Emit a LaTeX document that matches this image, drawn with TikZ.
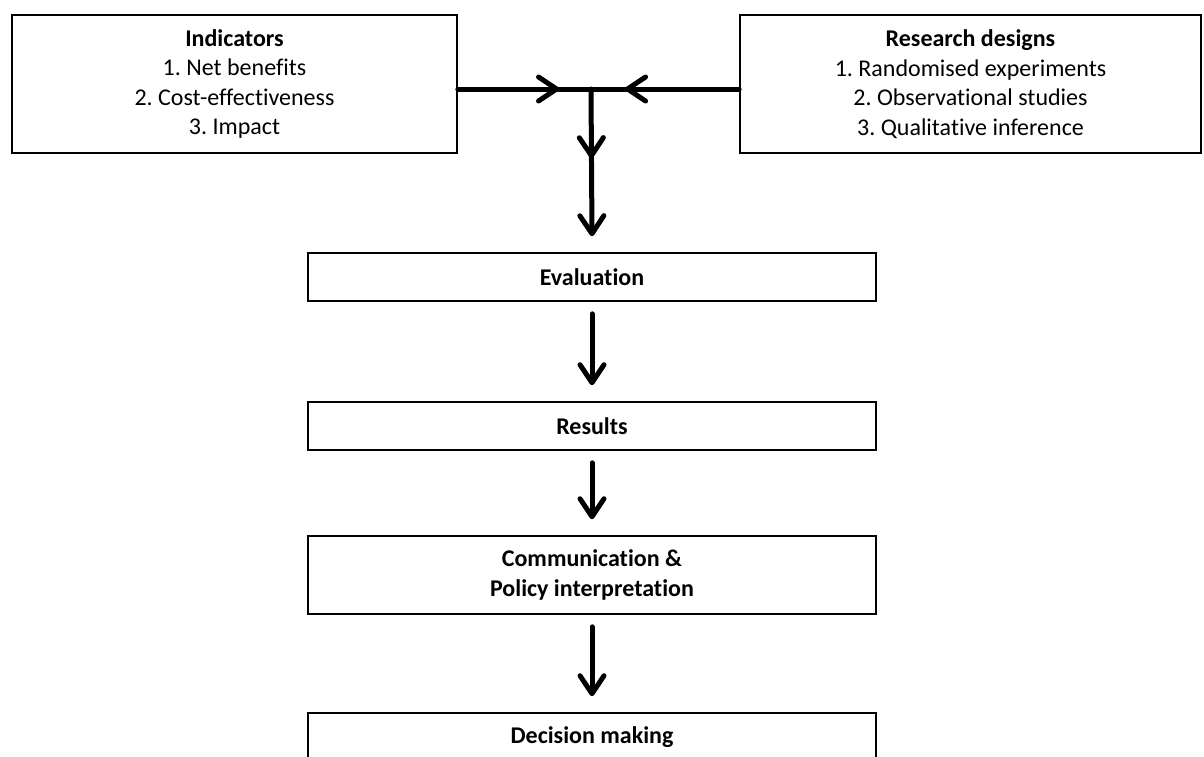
\documentclass[tikz,border=0pt]{standalone}
\usepackage{fontspec}
\setmainfont{Carlito}[Ligatures=NoCommon]
\usetikzlibrary{arrows.meta,decorations.markings}

\tikzset{
  barb/.tip={Straight Barb[length=9pt,width=12pt,line cap=round,line join=round]},
  flowline/.style={line width=2.5pt,line cap=round},
  midbarb/.style={postaction={decorate},
    decoration={markings,mark=at position #1 with {\arrow{barb}}}}
}

\begin{document}
\begin{tikzpicture}[x=0.5pt,y=-0.5pt]
        \useasboundingbox (0,0) rectangle (1204,756);

        \begin{scope}[every node/.style={draw,line width=0.8pt,align=center,
            font=\fontsize{12}{14.75}\selectfont}]
          \node[minimum width=222.5pt,minimum height=69pt] (ind) at (234.5,84)
            {\textbf{Indicators}\\1.~Net benefits\\2.~Cost-effectiveness\\3.~Impact};
          \node[minimum width=230.5pt,minimum height=69pt] (design) at (970.5,84)
            {\textbf{Research designs}\\1.~Randomised experiments\\2.~Observational studies\\3.~Qualitative inference};
          \node[minimum width=284pt,minimum height=24pt] (eval)   at (592,277) {\textbf{Evaluation}};
          \node[minimum width=284pt,minimum height=24pt] (result) at (592,426) {\textbf{Results}};
          \node[minimum width=284pt,minimum height=39pt] (comm)   at (592,575) {\textbf{Communication \&}\\\textbf{Policy interpretation}};
          \node[minimum width=284pt,minimum height=24pt] (decide) at (592,737) {\textbf{Decision making}};
        \end{scope}

        \coordinate (join) at (591,89);

        \draw[flowline,midbarb=0.76] (ind.east |- join) -- (join);
        \draw[flowline,midbarb=0.77] (design.west |- join) -- (join);
        \draw[flowline,midbarb=0.47,-barb] (join) -- ([yshift=8pt]eval.north);

        \begin{scope}[every edge/.style={draw,flowline,-barb,shorten <=6pt,shorten >=8pt}]
          \path (eval)   edge (result);
          \path (result) edge (comm);
          \path (comm)   edge (decide);
        \end{scope}

      \end{tikzpicture}
\end{document}
